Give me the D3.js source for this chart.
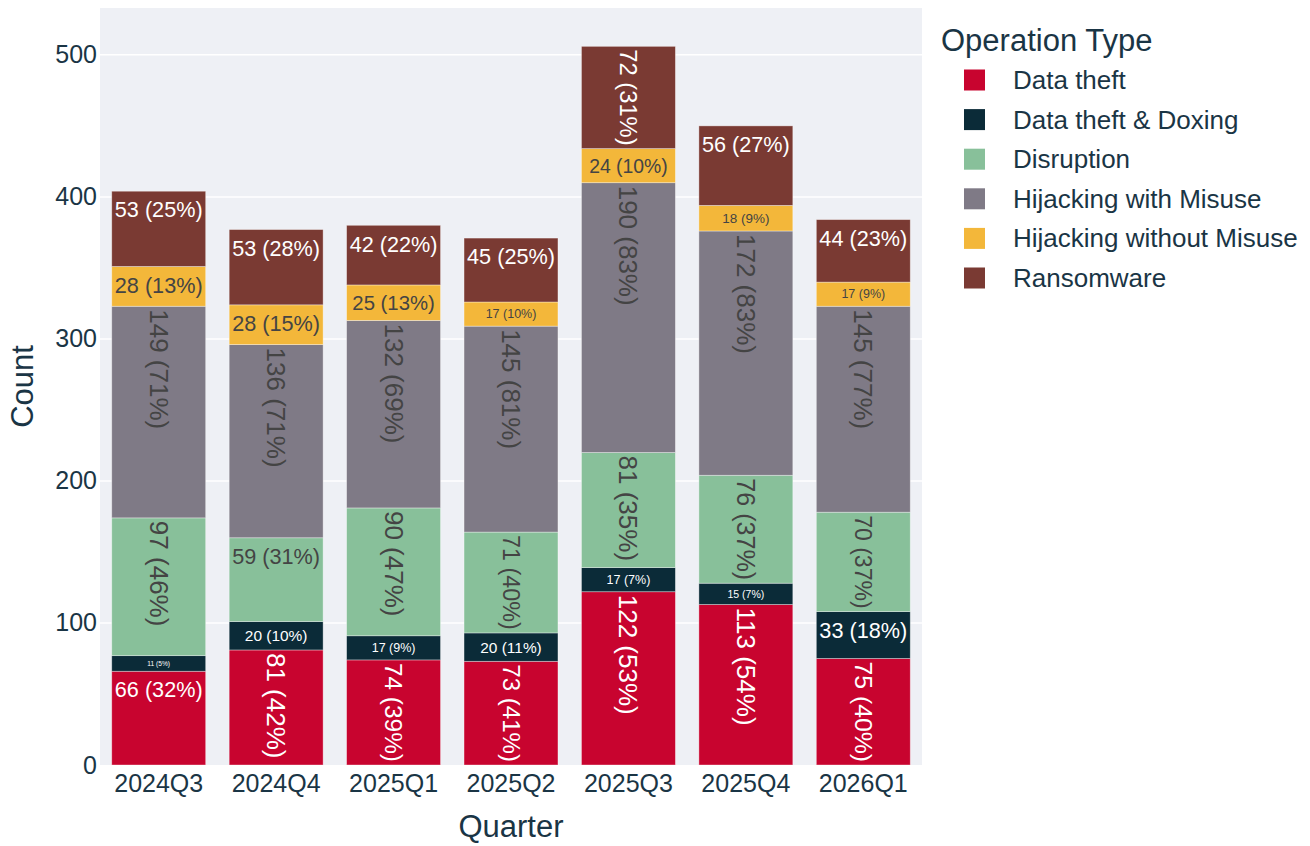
<!DOCTYPE html>
<html>
<head>
<meta charset="utf-8">
<script src="https://cdn.jsdelivr.net/npm/d3@7"></script>
<style>
  body { margin: 0; background: #fff; }
  svg { font-family: "Liberation Sans", Arial, Helvetica, sans-serif; }
</style>
</head>
<body>
<div id="chart"></div>
<script>
// Stacked bar chart: operations per quarter by type

const quarters = ["2024Q3", "2024Q4", "2025Q1", "2025Q2", "2025Q3", "2025Q4", "2026Q1"];
const opTypes = ["Data theft", "Data theft & Doxing", "Disruption", "Hijacking with Misuse", "Hijacking without Misuse", "Ransomware"];
const opColors = ["#c8042f", "#0b2b38", "#88c09a", "#7f7a86", "#f3b73a", "#7a3a33"];

// counts per type, one value per quarter
const dataTheft     = [66, 81, 74, 73, 122, 113, 75];
const doxing        = [11, 20, 17, 20, 17, 15, 33];
const disruption    = [97, 59, 90, 71, 81, 76, 70];
const hijackMisuse  = [149, 136, 132, 145, 190, 172, 145];
const hijackNoMis   = [28, 28, 25, 17, 24, 18, 17];
const ransomware    = [53, 53, 42, 45, 72, 56, 44];

// percentage shown in the labels
const pctDataTheft    = [32, 42, 39, 41, 53, 54, 40];
const pctDoxing       = [5, 10, 9, 11, 7, 7, 18];
const pctDisruption   = [46, 31, 47, 40, 35, 37, 37];
const pctHijackMisuse = [71, 71, 69, 81, 83, 83, 77];
const pctHijackNoMis  = [13, 15, 13, 10, 10, 9, 9];
const pctRansomware   = [25, 28, 22, 25, 31, 27, 23];

const yTicks = [0, 100, 200, 300, 400, 500];

const seriesVals = [dataTheft, doxing, disruption, hijackMisuse, hijackNoMis, ransomware];
const seriesPct = [pctDataTheft, pctDoxing, pctDisruption, pctHijackMisuse, pctHijackNoMis, pctRansomware];

const rows = quarters.map((q, i) => {
  const r = { quarter: q };
  opTypes.forEach((t, k) => r[t] = seriesVals[k][i]);
  return r;
});

const width = 1310;
const height = 846;
const margin = { left: 100, right: 388, top: 8, bottom: 81 };
const axisColor = "#1a3545";

const svg = d3.select("#chart").append("svg")
  .attr("width", width)
  .attr("height", height);

const x = d3.scaleBand()
  .domain(quarters)
  .range([margin.left, width - margin.right])
  .paddingInner(0.2)
  .paddingOuter(0.1);

const y = d3.scaleLinear()
  .domain([0, 533])
  .range([height - margin.bottom, margin.top]);

// plot background
svg.append("rect")
  .attr("x", margin.left)
  .attr("y", margin.top)
  .attr("width", width - margin.right - margin.left)
  .attr("height", height - margin.bottom - margin.top)
  .attr("fill", "#eef0f5");

// grid
svg.append("g")
  .selectAll("line")
  .data(yTicks.slice(1))
  .join("line")
  .attr("x1", margin.left)
  .attr("x2", width - margin.right)
  .attr("y1", d => y(d))
  .attr("y2", d => y(d))
  .attr("stroke", "#fff")
  .attr("stroke-width", 1.5);

// axes
const yAxis = svg.append("g")
  .attr("transform", `translate(${margin.left},0)`)
  .call(d3.axisLeft(y).tickValues(yTicks).tickSize(0).tickPadding(3));
yAxis.select(".domain").remove();
yAxis.selectAll("text").attr("font-size", 25).attr("fill", axisColor).attr("font-family", null);

const xAxis = svg.append("g")
  .attr("transform", `translate(0,${height - margin.bottom})`)
  .call(d3.axisBottom(x).tickSize(0).tickPadding(9));
xAxis.select(".domain").remove();
xAxis.selectAll("text").attr("font-size", 25).attr("fill", axisColor).attr("font-family", null);

svg.append("text")
  .attr("x", (margin.left + width - margin.right) / 2)
  .attr("y", 837)
  .attr("text-anchor", "middle")
  .attr("font-size", 31)
  .attr("fill", axisColor)
  .text("Quarter");

svg.append("text")
  .attr("transform", `translate(33,${(margin.top + height - margin.bottom) / 2}) rotate(-90)`)
  .attr("text-anchor", "middle")
  .attr("font-size", 31)
  .attr("fill", axisColor)
  .text("Count");

// stacked bars
const stack = d3.stack().keys(opTypes);
const layers = stack(rows);

const g = svg.append("g");
layers.forEach((layer, k) => {
  g.append("g")
    .selectAll("rect")
    .data(layer)
    .join("rect")
    .attr("x", d => x(d.data.quarter))
    .attr("y", d => y(d[1]))
    .attr("width", x.bandwidth())
    .attr("height", d => y(d[0]) - y(d[1]))
    .attr("fill", opColors[k])
    .attr("stroke", "rgba(255,255,255,0.45)")
    .attr("stroke-width", 0.8);
});

// inside labels, sized and rotated like plotly's auto text
const baseFont = 26;
const TEXTPAD = 3;
const measure = svg.append("text").attr("font-size", baseFont).attr("visibility", "hidden");

function isLight(c) {
  const rgb = d3.rgb(c);
  return (rgb.r * 299 + rgb.g * 587 + rgb.b * 114) / 1000 > 110;
}

const labels = svg.append("g");
layers.forEach((layer, k) => {
  layer.forEach((d, i) => {
    const label = `${seriesVals[k][i]} (${seriesPct[k][i]}%)`;
    measure.text(label);
    const tw = measure.node().getComputedTextLength();
    const th = baseFont * 1.45;

    let lx = x.bandwidth();
    let ly = y(d[0]) - y(d[1]);
    const pad = (lx > 2 * TEXTPAD && ly > 2 * TEXTPAD) ? TEXTPAD : 0;
    lx -= 2 * pad;
    ly -= 2 * pad;

    const fits = tw <= lx && th <= ly;
    const fitsRot = tw <= ly && th <= lx;
    const rotate = !fits && (fitsRot || ((tw < th) !== (lx < ly)));

    const s = rotate
      ? Math.min(1, ly / tw, lx / th)
      : Math.min(1, lx / tw, ly / th);

    const cx = x(d.data.quarter) + x.bandwidth() / 2;
    const top = y(d[1]) + pad;
    const extent = rotate ? tw * s : th * s;
    const cy = top + extent / 2;

    labels.append("text")
      .attr("transform", `translate(${cx},${cy})` + (rotate ? " rotate(90)" : ""))
      .attr("text-anchor", "middle")
      .attr("dominant-baseline", "central")
      .attr("font-size", baseFont * s)
      .attr("fill", isLight(opColors[k]) ? "#444" : "#fff")
      .text(label);
  });
});
measure.remove();

// legend
const legend = svg.append("g").attr("transform", "translate(941,0)");
legend.append("text")
  .attr("x", 0)
  .attr("y", 51)
  .attr("font-size", 31)
  .attr("fill", axisColor)
  .text("Operation Type");

const item = legend.selectAll("g.item")
  .data(opTypes)
  .join("g")
  .attr("class", "item")
  .attr("transform", (d, i) => `translate(0,${80 + i * 39.6})`);

item.append("rect")
  .attr("x", 23)
  .attr("y", -10.5)
  .attr("width", 21)
  .attr("height", 21)
  .attr("fill", (d, i) => opColors[i]);

item.append("text")
  .attr("x", 72)
  .attr("dominant-baseline", "central")
  .attr("font-size", 26)
  .attr("fill", axisColor)
  .text(d => d);
</script>
</body>
</html>
